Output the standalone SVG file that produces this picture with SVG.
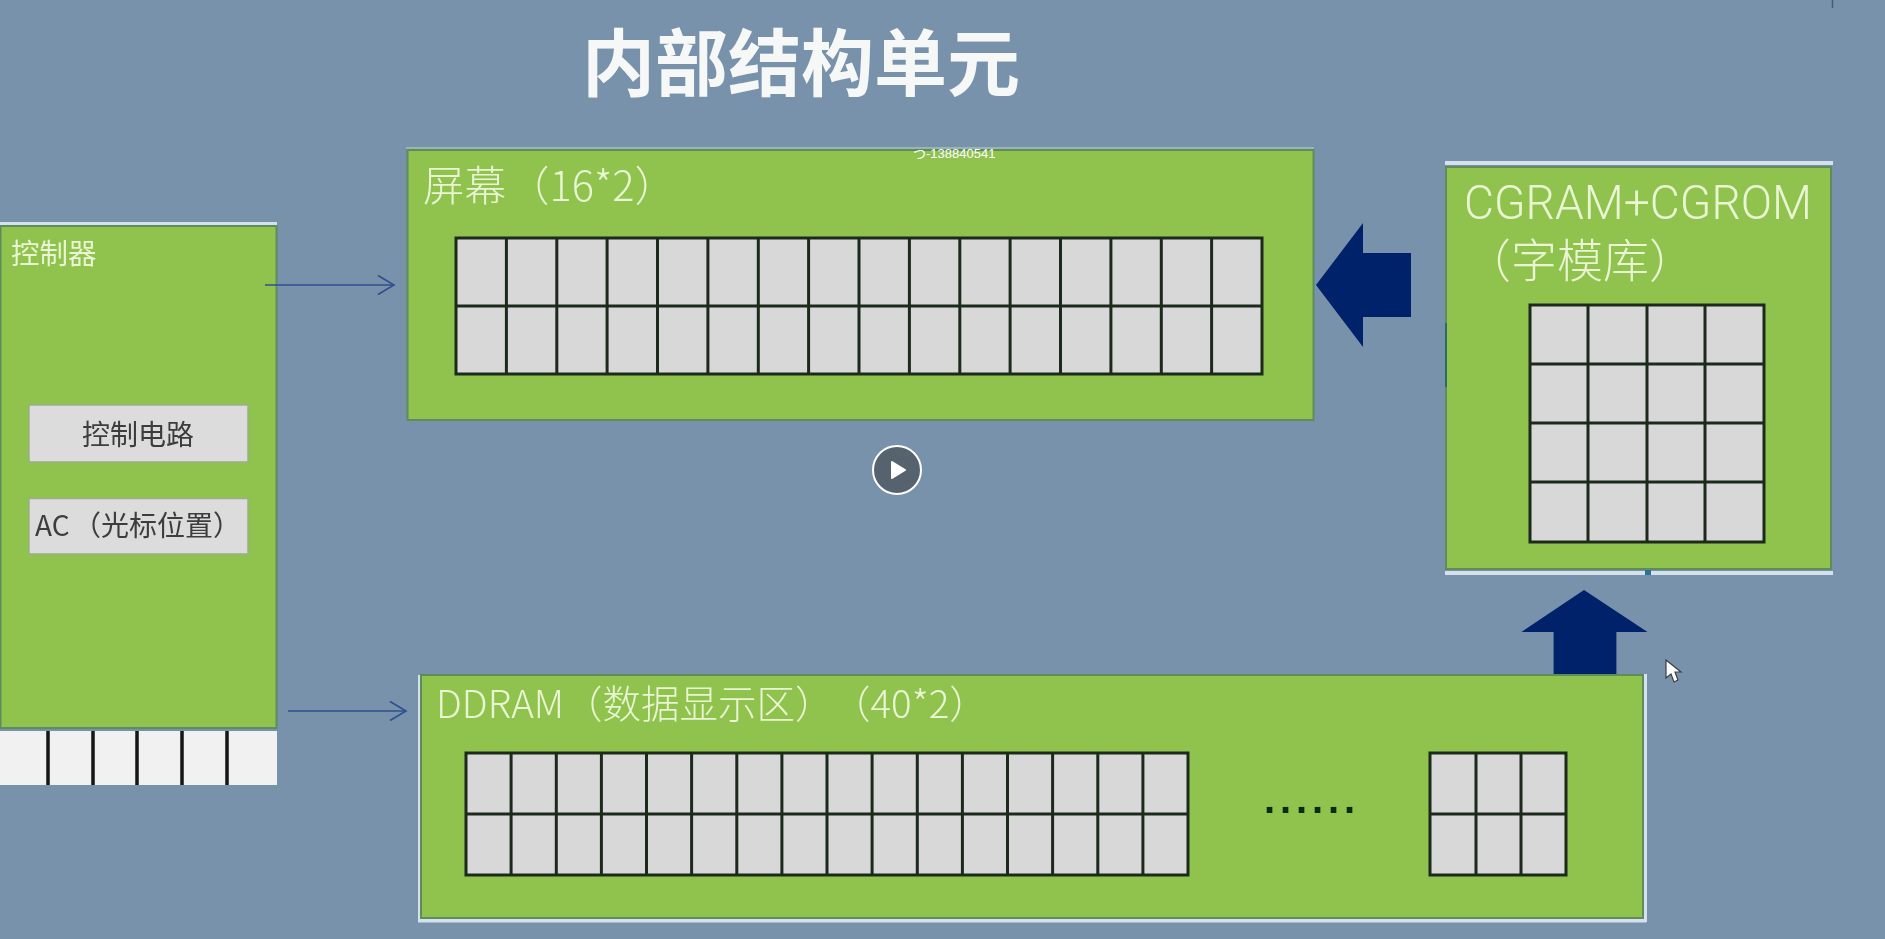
<svg xmlns="http://www.w3.org/2000/svg" width="1885" height="939" viewBox="0 0 1885 939">
<style>
.panel{fill:#8fc34d;stroke:#5f8c5c;stroke-width:2}
.edge{fill:#d5e2ee}
.cells{fill:#d8d8d8;stroke:#1d2a1d;stroke-width:3}
.grid{fill:none;stroke:#1d2a1d;stroke-width:3}
.label{font-family:"Noto Sans CJK SC","Liberation Sans",sans-serif;font-weight:300;fill:#e9f5d3}
.dark{font-family:"Noto Sans CJK SC","Liberation Sans",sans-serif;font-size:28px;fill:#3c3c3c}
.inner{fill:#dcdcdc;stroke:#9dad8c;stroke-width:1.5}
.thin{fill:none;stroke:#2f4f8f;stroke-width:1.6;marker-end:url(#open)}
.block{fill:#03216a}
</style>
<defs>
<marker id="open" markerUnits="userSpaceOnUse" markerWidth="20" markerHeight="22" refX="18" refY="11" orient="auto">
<path d="M2 1.5L18 11L2 20.5" fill="none" stroke="#2f4f8f" stroke-width="1.6"/>
</marker>
<filter id="soft" x="-2%" y="-2%" width="104%" height="104%"><feGaussianBlur stdDeviation="0.45"/></filter>
</defs>
<rect width="1885" height="939" fill="#7892ab"/>
<line x1="1832.500" y1="0" x2="1832.500" y2="8" stroke="#4a5a70" stroke-width="1.500"/>
<text id="title" x="582" y="90" font-family="'Noto Sans CJK SC','Liberation Sans',sans-serif" font-size="73" font-weight="700" fill="#f6f8f8" filter="url(#soft)">内部结构单元</text>

<g id="controller" filter="url(#soft)">
<rect class="edge" x="0" y="222" width="277" height="3"/>
<rect class="panel" x="0.500" y="226" width="276" height="502"/>
<text class="label" style="font-weight:400" x="11" y="264" font-size="28.500">控制器</text>
<g id="control-circuit">
<rect class="inner" x="29" y="405" width="219" height="57"/>
<text class="dark" x="82" y="445">控制电路</text>
</g>
<g id="ac">
<rect class="inner" x="29" y="498.500" width="219" height="55.500"/>
<text class="dark" x="35" y="536">AC<tspan x="73">（光标位置）</tspan></text>
</g>
<rect x="0" y="731" width="277" height="54" fill="#f1f1f1"/>
<path d="M48 731V785M93 731V785M137 731V785M182 731V785M227 731V785" fill="none" stroke="#151515" stroke-width="3.500"/>
</g>

<g id="screen" filter="url(#soft)">
<rect x="406" y="147" width="908" height="2" fill="#9bb4b6"/>
<rect class="panel" x="407.500" y="150" width="906" height="270"/>
<text class="label" x="423" y="201" font-size="41.500">屏幕<tspan x="508">（16*2）</tspan></text>
<rect class="cells" x="456" y="238" width="806" height="136"/>
<path class="grid" d="M506.400 238V374M556.800 238V374M607.100 238V374M657.500 238V374M707.900 238V374M758.300 238V374M808.600 238V374M859 238V374M909.400 238V374M959.800 238V374M1010.100 238V374M1060.500 238V374M1110.900 238V374M1161.300 238V374M1211.600 238V374M456 306H1262"/>
</g>

<g id="cgram" filter="url(#soft)">
<rect class="edge" x="1445" y="161" width="388" height="4"/>
<rect class="edge" x="1445" y="571" width="388" height="4"/>
<rect class="panel" x="1446" y="167" width="385" height="402"/>
<rect x="1645" y="570" width="6" height="5" fill="#2d6f9c"/>
<path d="M1446 323V387" stroke="#2f6a6a" stroke-width="2"/>
<text class="label" style="font-family:Roboto,'Liberation Sans',sans-serif" x="1464" y="219" font-size="48" textLength="348" lengthAdjust="spacingAndGlyphs">CGRAM+CGROM</text>
<text class="label" style="font-family:'Liberation Sans','Noto Sans CJK SC',sans-serif" x="1465" y="277" font-size="46">（字模库）</text>
<rect class="cells" x="1530" y="305" width="234" height="237"/>
<path class="grid" d="M1588 305V542M1647 305V542M1705 305V542M1530 364H1764M1530 423H1764M1530 482H1764"/>
</g>

<g id="ddram" filter="url(#soft)">
<rect class="edge" x="418" y="675" width="3" height="247"/>
<rect class="edge" x="418" y="919" width="1228" height="3.500"/>
<rect class="edge" x="1643" y="674" width="4" height="248"/>
<rect class="panel" x="421" y="675" width="1222" height="243"/>
<text class="label" x="436" y="718" font-size="38.500">DDRAM（数据显示区）<tspan x="832">（40*2）</tspan></text>
<rect class="cells" x="466" y="753" width="722" height="122"/>
<path class="grid" d="M511.100 753V875M556.300 753V875M601.400 753V875M646.500 753V875M691.600 753V875M736.800 753V875M781.900 753V875M827 753V875M872.100 753V875M917.300 753V875M962.400 753V875M1007.500 753V875M1052.600 753V875M1097.800 753V875M1142.900 753V875M466 814H1188"/>
<text x="1264" y="813" font-family="'Liberation Sans',sans-serif" font-size="40" font-weight="700" letter-spacing="4.900" fill="#0e2a12">......</text>
<rect class="cells" x="1430" y="753" width="136" height="122"/>
<path class="grid" d="M1476 753V875M1521 753V875M1430 814H1566"/>
</g>

<g id="connectors" filter="url(#soft)">
<path class="thin" d="M265 285H394"/>
<path class="thin" d="M288 711H406"/>
<path class="block" d="M1316 285L1363 223V253H1411V317H1363V347Z"/>
<path class="block" d="M1584 590L1647.500 632H1616.400V674H1553.600V632H1521.400Z"/>
</g>

<text id="watermark" x="913" y="158" font-family="'Liberation Sans','Noto Sans CJK JP',sans-serif" font-size="13" fill="#ffffff">つ-138840541</text>

<g id="play">
<circle cx="897" cy="470" r="24" fill="#56636f" stroke="#ffffff" stroke-width="2"/>
<path d="M892 462L905 470L892 478Z" fill="#ffffff" stroke="#ffffff" stroke-width="2" stroke-linejoin="round"/>
</g>

<path id="cursor" d="M1666 660V678L1671 674L1674 682L1678 680L1675 672L1681 672Z" fill="#ffffff" stroke="#3a3f45" stroke-width="1.200"/>
</svg>
